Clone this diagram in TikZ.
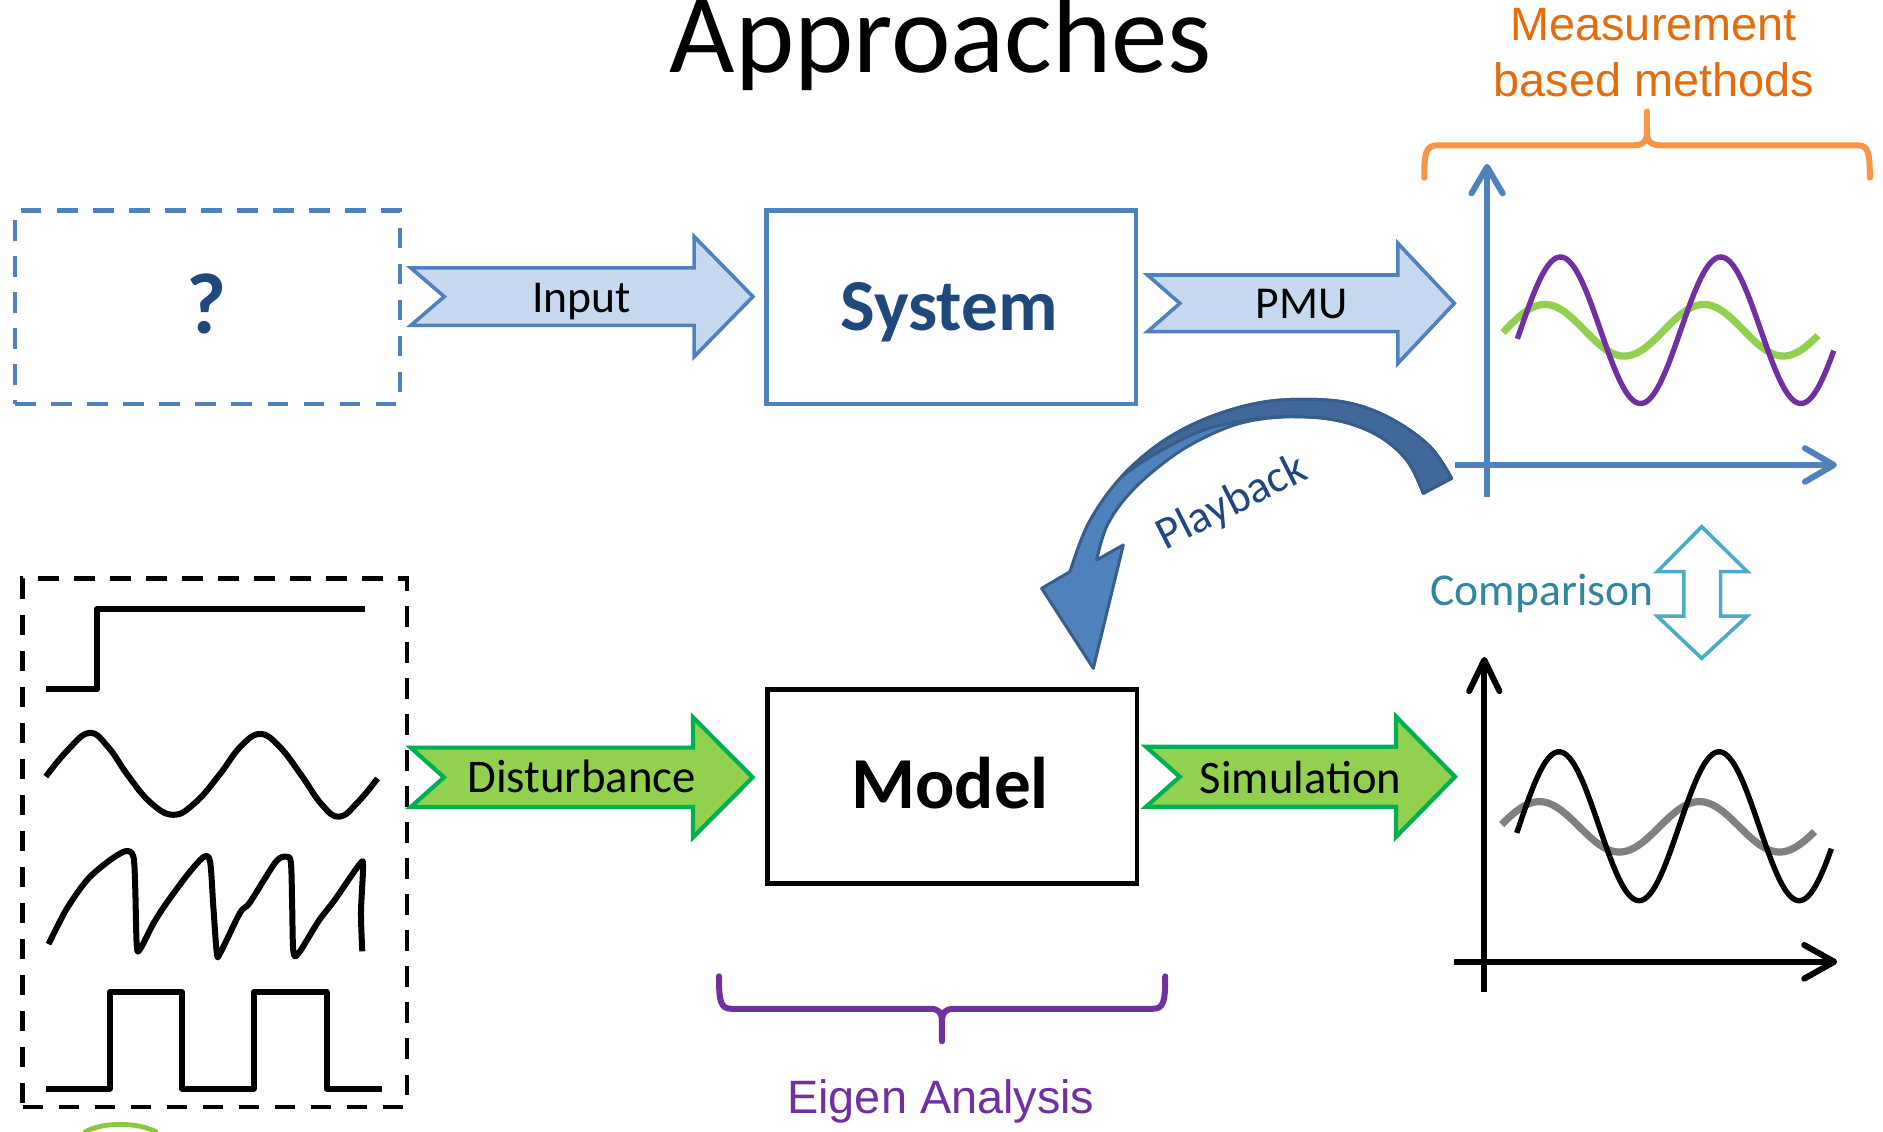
\documentclass[tikz,border=0pt]{standalone}
\usepackage{fontspec}
\setmainfont{Carlito}
\newfontfamily\arialfont{Liberation Sans}
\usetikzlibrary{calc}

\definecolor{axblue}{HTML}{4F81BD}
\definecolor{txtblue}{HTML}{1F497D}
\definecolor{paleblue}{HTML}{C6D9F1}
\definecolor{leafgreen}{HTML}{92D050}
\definecolor{deepgreen}{HTML}{00B050}
\definecolor{eigenpurple}{HTML}{7030A0}
\definecolor{orangetxt}{HTML}{E46C0A}
\definecolor{orangebr}{HTML}{F79646}
\definecolor{tealtxt}{HTML}{31859C}
\definecolor{tealline}{HTML}{4BACC6}
\definecolor{ribbondark}{HTML}{41689B}
\definecolor{ribbonedge}{HTML}{385D8A}
\definecolor{logogreen}{HTML}{8DC63F}

\tikzset{
  fs/.style={font=\fontsize{#1}{#1}\selectfont},
  afs/.style={font=\arialfont\fontsize{#1}{#1}\selectfont},
  lbl/.style={anchor=base, inner sep=0pt},
  dashbox/.style={line width=3.5pt, dash pattern=on 17pt off 13pt},
  blockbox/.style={line width=3.5pt, inner sep=0pt, anchor=north west},
  brace/.style={line width=5pt, line cap=round, line join=round},
  axis/.style={line width=5pt},
  axtip/.style={line width=5pt, line cap=round, line join=round},
  wave/.style={line width=5pt, line join=round},
  bluearrow/.style={draw=axblue, fill=paleblue, line width=3pt},
  greenarrow/.style={draw=deepgreen, fill=leafgreen, line width=3.5pt},
}

% notched block arrow: style, tail x, notch x, head base x, tip x, centre y, body half height, head half height
\newcommand\notcharrow[8]{%
  \draw[#1] (#2,#6-#7) -- (#4,#6-#7) -- (#4,#6-#8) -- (#5,#6) -- (#4,#6+#8)
    -- (#4,#6+#7) -- (#2,#6+#7) -- (#3,#6) -- cycle;}

\begin{document}
\begin{tikzpicture}[x=1pt,y=-1pt]
\useasboundingbox (0,0) rectangle (1568,942);
\fill[white] (0,0) rectangle (1568,942);

% ---------- headings ----------
\node[lbl, fs=94] (title) at (783.5,60.5) {Approaches};
\node[lbl, afs=39, text=orangetxt] (meas1) at (1377,33.9) {Measurement};
\node[lbl, afs=39, text=orangetxt] (meas2) at (1377,80.5) {based methods};

\draw[brace, orangebr] (1186,148) .. controls (1186,128) and (1187,121) .. (1197,121)
  -- (1360,121) .. controls (1368,121) and (1371.4,118) .. (1371.4,110) -- (1371.4,93);
\draw[brace, orangebr] (1371.4,110) .. controls (1371.4,118) and (1375,121) .. (1383,121)
  -- (1547,121) .. controls (1556,121) and (1557,128) .. (1557,148);

% ---------- top row ----------
\node[draw=axblue, dashbox, inner sep=0pt, anchor=north west,
      minimum width=320.4pt, minimum height=161pt] (unknown) at (11,173.5) {};
\node[lbl, text=txtblue, font=\bfseries\fontsize{72}{72}\selectfont] (qmark) at (172,277.6) {?};

\notcharrow{bluearrow}{342}{370}{578}{627}{247}{24}{50}
\node[lbl, fs=38] (input) at (484.5,260.5) {Input};

\node[draw=axblue, blockbox, minimum width=307.4pt, minimum height=161pt] (system) at (636.6,173.5) {};
\node[lbl, text=txtblue, font=\bfseries\fontsize{61}{61}\selectfont] (systemtxt) at (790.3,274.8) {System};

\notcharrow{bluearrow}{955.5}{982.5}{1164}{1211}{252.6}{23.6}{50}
\node[lbl, fs=38] (pmu) at (1084,265.1) {PMU};

% measured response
\draw[axblue, axis] (1211.2,387.2) -- (1527,387.2);
\draw[axblue, axis] (1238.3,413.6) -- (1238.3,139);
\draw[axblue, axtip] (1527,387.2) ++(-24,-14) -- ++(24,14) -- ++(-24,14);
\draw[axblue, axtip] (1238.3,139) ++(-13,22) -- ++(13,-22) -- ++(13,22);
\draw[leafgreen, line width=6pt] plot[domain=1251.5:1513.8, samples=120, smooth]
  (\x, {275-21.5*sin(360/132.4*(\x-1253.3))});
\draw[eigenpurple, line width=4.5pt] plot[domain=1263.5:1527, samples=140, smooth]
  (\x, {275-61*sin(360/133.5*(\x-1266))});

% ---------- playback ribbon ----------
\filldraw[fill=axblue, draw=ribbonedge, line width=2.5pt, line join=round]
  plot[smooth, tension=0.6] coordinates {(1208.8,398.3) (1190.8,371.9) (1160.2,349.7)
    (1126.9,336.4) (1090.8,332.5) (1049.2,335.3) (1004.8,348.3) (965.9,369.1)
    (932.6,398.3) (906.3,435.8) (891.0,476.0)}
  -- (867.4,489.9) -- (910.4,556.5) -- (935.4,453.8)
  -- plot[smooth, tension=0.6] coordinates {(913.2,466.3) (921.5,438.5) (938.2,413.6)
    (963.2,390.0) (993.7,369.1) (1032.6,352.5) (1074.2,347) (1113.1,350)
    (1146.3,362) (1171.3,383.0) (1185.2,410.8)}
  -- cycle;
\filldraw[fill=ribbondark, draw=ribbonedge, line width=2.5pt, line join=round]
  plot[smooth, tension=0.6] coordinates {(1208.8,398.3) (1190.8,371.9) (1160.2,349.7)
    (1126.9,336.4) (1090.8,332.5) (1049.2,335.3) (1004.8,348.3) (965.9,369.1) (935,396)}
  -- plot[smooth, tension=0.6] coordinates {(935,396) (962,378) (1000,359) (1040,349.5)
    (1074.2,347) (1113.1,350) (1146.3,362) (1171.3,383.0) (1185.2,410.8)}
  -- cycle;
\node[lbl, rotate=26.8, text=txtblue, font=\fontsize{38}{38}\selectfont] (playback) at (1030.5,428.1) {Playback};

% ---------- comparison ----------
\node[lbl, fs=38, text=tealtxt] (comparison) at (1284,503.8) {Comparison};
\draw[tealline, line width=3pt, fill=white, line join=miter]
  (1417,438.6) -- (1455,476) -- (1432.8,476) -- (1432.8,513) -- (1455,513) -- (1417,548.2)
  -- (1380,513) -- (1402.2,513) -- (1402.2,476) -- (1380,476) -- cycle;

% ---------- bottom row ----------
\node[draw=black, dashbox, inner sep=0pt, anchor=north west,
      minimum width=320pt, minimum height=440pt] (signals) at (17,480) {};
% step
\draw[wave] (38.2,574) -- (80.7,574) -- (80.7,507.2) -- (303.8,507.2);
% sine
\draw[wave] plot[smooth, tension=0.7] coordinates {(38.2,646.7) (56,625) (74.4,610.3) (90,622)
  (106.2,645.2) (125,668) (144.5,678.5) (163,668) (182.7,645.2) (200,622) (216.7,611.2)
  (233,622) (250.7,645.2) (268,670) (282.6,680.1) (298,668) (314.4,648.2)};
% sawtooth
\draw[wave] plot[smooth, tension=0.5] coordinates {(40.4,786.2) (55.2,757.4) (72.2,733.1)
  (89.2,718) (104.1,708.9) (111,713) (112.6,739.2) (113.9,787.7) (116.8,790.1)
  (127.5,769.5) (138.1,752.8) (157.2,727) (170,713.4) (175,718) (177.6,754.3)
  (180.6,793.8) (183.6,793.2) (199.7,760.4) (208.2,751.3) (229.4,718) (238,713.4)
  (242.2,718) (243.3,755) (244.3,792.2) (248.6,793.8) (265.6,766.5) (278.3,750)
  (299.6,719.5) (302.3,722) (300.6,760) (301.7,792.2)};
% pulse train
\draw[wave] (38.2,906.5) -- (91.4,906.5) -- (91.4,826.2) -- (151.7,826.2) -- (151.7,906.5)
  -- (211.2,906.5) -- (211.2,826.2) -- (271.9,826.2) -- (271.9,906.5) -- (317.8,906.5);

\notcharrow{greenarrow}{342}{369.7}{577}{626.7}{647.3}{24.75}{50}
\node[lbl, fs=39] (disturbance) at (484.4,660.3) {Disturbance};

\node[draw=black, blockbox, minimum width=307.6pt, minimum height=161.6pt] (model) at (637.4,572.4) {};
\node[lbl, font=\bfseries\fontsize{61}{61}\selectfont] (modeltxt) at (791.2,673.5) {Model};

\notcharrow{greenarrow}{954.3}{982.4}{1162.5}{1211.6}{646.8}{25}{50}
\node[lbl, fs=38.8] (simulation) at (1083,660.7) {Simulation};

% simulated response
\draw[axis] (1210.7,800.9) -- (1527.4,800.9);
\draw[axis] (1236,825.9) -- (1236,549.5);
\draw[axtip] (1527.4,800.9) ++(-25,-14) -- ++(25,14) -- ++(-25,14);
\draw[axtip] (1236,549.5) ++(-12.6,26) -- ++(12.6,-26) -- ++(12.6,26);
\draw[gray, line width=6pt] plot[domain=1250.4:1511, samples=120, smooth]
  (\x, {688.5-21*sin(360/133.3*(\x-1248.5))});
\draw[black, line width=4.5pt] plot[domain=1263:1525, samples=140, smooth]
  (\x, {688-62*sin(360/133.3*(\x-1264.9))});

% ---------- eigen analysis ----------
\draw[brace, eigenpurple] (598.7,813) .. controls (598.7,834) and (600,840) .. (609,840)
  -- (774,840) .. controls (782,840) and (784.4,843) .. (784.4,851) -- (784.4,867);
\draw[brace, eigenpurple] (784.4,851) .. controls (784.4,843) and (787,840) .. (795,840)
  -- (960,840) .. controls (969,840) and (970.3,834) .. (970.3,813);
\node[lbl, afs=39, text=eigenpurple] (eigen) at (783.5,927) {Eigen Analysis};

% logo edge at the foot of the page
\draw[logogreen, line width=4pt] (70,943) .. controls (85,934) and (115,934) .. (131,943);
\end{tikzpicture}
\end{document}
